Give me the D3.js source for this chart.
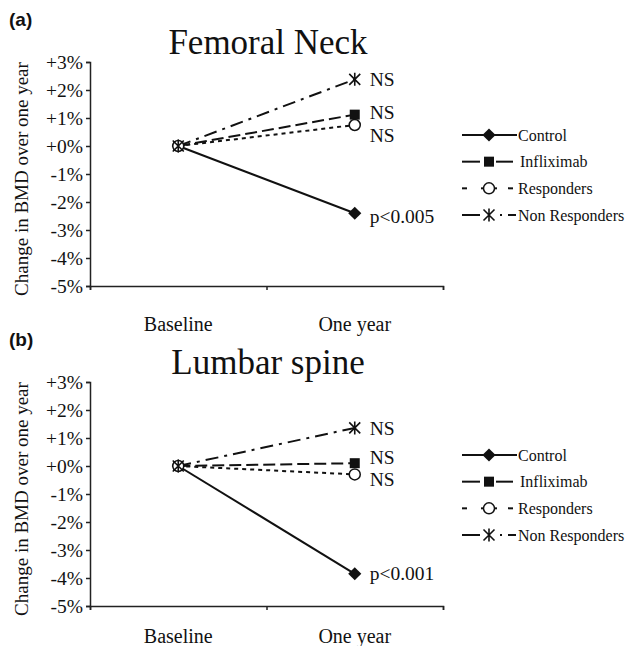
<!DOCTYPE html>
<html>
<head>
<meta charset="utf-8">
<script src="https://cdn.jsdelivr.net/npm/d3@7"></script>
<style>
  body { margin: 0; background: #fff; }
  svg { display: block; }
</style>
</head>
<body>
<div id="chart"></div>
<script>
// Data (% change in BMD)
const categories = ['Baseline', 'One year'];
const yTicks = [-5, -4, -3, -2, -1, 0, 1, 2, 3];
const seriesNames = ['Control', 'Infliximab', 'Responders', 'Non Responders'];

const femoralControl = [0, -2.4];
const femoralInfliximab = [0, 1.12];
const femoralResponders = [0, 0.75];
const femoralNonResponders = [0, 2.38];
const femoralLabels = ['p<0.005', 'NS', 'NS', 'NS'];

const lumbarControl = [0, -3.85];
const lumbarInfliximab = [0, 0.1];
const lumbarResponders = [0, -0.3];
const lumbarNonResponders = [0, 1.36];
const lumbarLabels = ['p<0.001', 'NS', 'NS', 'NS'];

const panels = [
  { tag: '(a)', title: 'Femoral Neck', offset: 0, catY: 331,
    series: [femoralControl, femoralInfliximab, femoralResponders, femoralNonResponders],
    labels: femoralLabels, labelShift: [3, -2, 10, 0] },
  { tag: '(b)', title: 'Lumbar spine', offset: 320, catY: 323,
    series: [lumbarControl, lumbarInfliximab, lumbarResponders, lumbarNonResponders],
    labels: lumbarLabels, labelShift: [-1, -6, 5, 0] }
];

// styles
const serif = '"Liberation Serif", "Times New Roman", serif';
const dashes = [null, '12,5', '4,4', '13,6,3,6'];
const markers = ['diamond', 'square', 'circle', 'star'];

const width = 630, height = 646;
const svg = d3.select('#chart').append('svg')
  .attr('width', width).attr('height', height);

function drawMarker(g, type, x, y) {
  if (type === 'diamond') {
    g.append('path').attr('d', d3.symbol(d3.symbolDiamond2, 110)())
      .attr('transform', `translate(${x},${y})`).attr('fill', '#111');
  } else if (type === 'square') {
    g.append('rect').attr('x', x - 5).attr('y', y - 5).attr('width', 10).attr('height', 10)
      .attr('fill', '#111');
  } else if (type === 'circle') {
    g.append('circle').attr('cx', x).attr('cy', y).attr('r', 5.5)
      .attr('fill', '#fff').attr('stroke', '#111').attr('stroke-width', 1.5);
  } else {
    const s = 5.5;
    g.append('path')
      .attr('d', `M${x - s},${y - s}L${x + s},${y + s}M${x + s},${y - s}L${x - s},${y + s}M${x},${y - s - 1}L${x},${y + s + 1}`)
      .attr('stroke', '#111').attr('stroke-width', 1.6).attr('fill', 'none');
  }
}

function txt(sel, size) {
  return sel.attr('font-family', serif).attr('font-size', size).attr('fill', '#111');
}

panels.forEach(p => {
  const g = svg.append('g').attr('transform', `translate(0,${p.offset})`);

  const y = d3.scaleLinear().domain([-5, 3]).range([286, 62]);
  const xBand = d3.scaleBand().domain(categories).range([90, 443]);
  const xEdge = d3.scaleLinear().domain([0, categories.length]).range([90, 443]);
  const cx = c => xBand(c) + xBand.bandwidth() / 2;

  // panel tag and title
  g.append('text').attr('x', 9).attr('y', 26)
    .attr('font-family', '"Liberation Sans", Arial, sans-serif')
    .attr('font-weight', 'bold').attr('font-size', 19).attr('fill', '#111').text(p.tag);
  txt(g.append('text'), 35).attr('x', 268).attr('y', 54).attr('text-anchor', 'middle')
    .text(p.title);

  // y axis
  const yAxis = g.append('g').attr('transform', 'translate(90,0)')
    .call(d3.axisLeft(y).tickValues(yTicks).tickSize(4).tickPadding(3)
      .tickFormat(d => (d >= 0 ? '+' : '-') + Math.abs(d) + '%'));
  yAxis.select('.domain').attr('stroke', '#222').attr('stroke-width', 1.5);
  yAxis.selectAll('.tick line').attr('stroke', '#222').attr('stroke-width', 1.5);
  txt(yAxis.selectAll('.tick text'), 19.5);

  // x axis
  const xAxis = g.append('g').attr('transform', 'translate(0,286)')
    .call(d3.axisBottom(xEdge).tickValues(d3.range(categories.length + 1)).tickSize(4).tickFormat(''));
  xAxis.select('.domain').attr('stroke', '#222').attr('stroke-width', 1.5);
  xAxis.selectAll('.tick line').attr('stroke', '#222').attr('stroke-width', 1.5);
  txt(g.selectAll('.cat').data(categories).join('text').attr('class', 'cat'), 20)
    .attr('x', d => cx(d)).attr('y', p.catY).attr('text-anchor', 'middle')
    .text(d => d);

  // y axis title
  txt(g.append('text'), 19).attr('transform', 'translate(28,179) rotate(-90)')
    .attr('text-anchor', 'middle').text('Change in BMD over one year');

  // lines
  const line = d3.line().x((d, i) => cx(categories[i])).y(d => y(d));
  p.series.forEach((vals, si) => {
    g.append('path').datum(vals).attr('d', line).attr('fill', 'none')
      .attr('stroke', '#111').attr('stroke-width', 2)
      .attr('stroke-dasharray', dashes[si]);
  });
  p.series.forEach((vals, si) => {
    vals.forEach((v, i) => drawMarker(g, markers[si], cx(categories[i]), y(v)));
  });

  // significance labels
  p.series.forEach((vals, si) => {
    txt(g.append('text'), 19.5).attr('x', cx(categories[1]) + 15)
      .attr('y', y(vals[1]) + p.labelShift[si]).attr('dy', '0.35em')
      .text(p.labels[si]);
  });

  // legend
  const leg = g.append('g');
  const legY = d3.scalePoint().domain(seriesNames).range([135, 215]);
  const segs = [
    [[462, 517]],
    [[462, 480], [496, 513]],
    [[462, 467], [481, 484], [494, 497], [508, 513]],
    [[462, 480], [500, 502], [508, 516]]
  ];
  seriesNames.forEach((name, si) => {
    const ly = legY(name);
    const lg = leg.append('g');
    segs[si].forEach(s => lg.append('line').attr('x1', s[0]).attr('x2', s[1])
      .attr('y1', ly).attr('y2', ly).attr('stroke', '#111').attr('stroke-width', 2));
    drawMarker(lg, markers[si], 489, ly);
    txt(lg.append('text'), 16).attr('x', si === 1 ? 520 : 518).attr('y', ly).attr('dy', '0.35em')
      .text(name);
  });
});
</script>
</body>
</html>
